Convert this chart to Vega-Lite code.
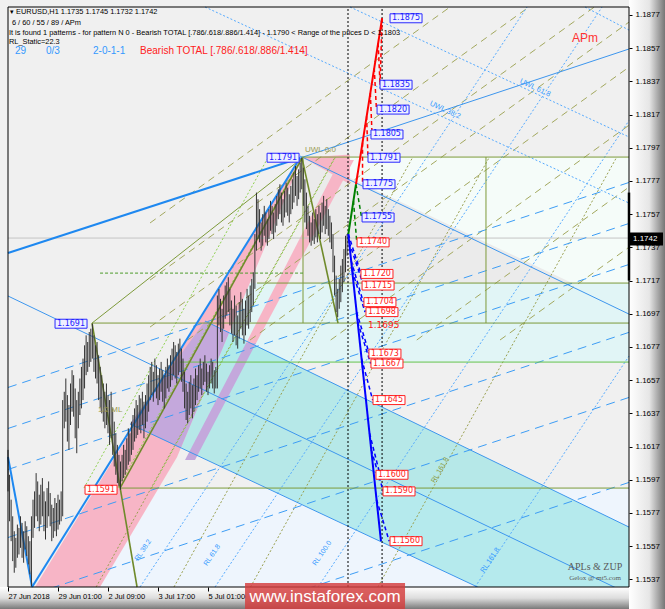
{
"$schema":"https://vega.github.io/schema/vega-lite/v6.json",
"width":621,"height":580,
"autosize":{"type":"none"},
"padding":{"left":8,"top":7,"right":36,"bottom":22},
"background":"#f0f0f0",
"view":{"fill":"#f0f0f0","stroke":null},
"config":{"font":"Liberation Sans"},
"encoding":{
 "x":{"field":"x","type":"quantitative","scale":{"domain":[0,397.44],"nice":false,"zero":false},
  "axis":{"orient":"bottom","values":[0,32,64,96,128],"labelExpr":"datum.value==0?'27 Jun 2018':datum.value==32?'29 Jun 01:00':datum.value==64?'2 Jul 09:00':datum.value==96?'3 Jul 17:00':'5 Jul 01:00'","title":null,"grid":false,"domain":false,"tickColor":"#000","tickSize":4,"labelAlign":"left","labelFontSize":7.5,"labelPadding":1,"labelColor":"#000","labelFlush":false,"labelOverlap":false,"zindex":2}},
 "y":{"field":"y","type":"quantitative","scale":{"domain":[1.15324,1.18818],"nice":false,"zero":false},
  "axis":{"orient":"right","values":[1.1537,1.1557,1.1577,1.1597,1.1617,1.1637,1.1657,1.1677,1.1697,1.1717,1.1737,1.1757,1.1777,1.1797,1.1817,1.1837,1.1857,1.1877],"format":".4f","title":null,"grid":false,"domain":false,"tickColor":"#000","tickSize":3,"labelColor":"#000","labelFontSize":8,"labelPadding":3,"zindex":2}}
},
"layer":[
 {"data":{"values":[{"x":397.44,"x2":421,"y":1.1887,"y2":1.1519}]},
  "mark":{"type":"rect","clip":false,"fill":{"gradient":"linear","x1":0,"x2":1,"y1":0,"y2":0,"stops":[{"offset":0,"color":"#ffffff"},{"offset":0.55,"color":"#e6e6e6"},{"offset":1,"color":"#707070"}]}},
  "encoding":{"x2":{"field":"x2"},"y2":{"field":"y2"}}},
 {"data":{"values":[{"x":-5.2,"x2":397.44,"y":1.15324,"y2":1.1519}]},
  "mark":{"type":"rect","clip":false,"fill":{"gradient":"linear","x1":0,"x2":0,"y1":0,"y2":1,"stops":[{"offset":0,"color":"#ffffff"},{"offset":0.5,"color":"#dddddd"},{"offset":1,"color":"#777777"}]}},
  "encoding":{"x2":{"field":"x2"},"y2":{"field":"y2"}}},
 {"data":{"values":[{"x":188.2,"x2":397.44,"y":1.17914,"y2":1.17155}]},
  "mark":{"type":"rect","fill":"#f5fcf9"},"encoding":{"x2":{"field":"x2"},"y2":{"field":"y2"}}},
 {"data":{"values":[{"x":188.2,"y":1.17926,"y2":1.17155},{"x":361,"y":1.17155,"y2":1.17155}]},
  "mark":{"type":"area","fill":"#ebebeb","clip":true},"encoding":{"y2":{"field":"y2"}}},
 {"data":{"values":[{"y":1.17155,"x":144,"x2":397.44},{"y":1.16673,"x":115.8,"x2":397.44}]},
  "mark":{"type":"area","orient":"horizontal","fill":"#e1f5f6","clip":true},"encoding":{"x2":{"field":"x2"}}},
 {"data":{"values":[{"y":1.1592,"x":96.6,"x2":397.44},{"y":1.15324,"x":58.9,"x2":397.44}]},
  "mark":{"type":"area","orient":"horizontal","fill":"#eef5fd","clip":true},"encoding":{"x2":{"field":"x2"}}},
 {"data":{"values":[{"x":78.1,"y":1.16306,"y2":1.16306},{"x":126.1,"y":1.16926,"y2":1.16095},{"x":397.44,"y":1.15685,"y2":1.14896}]},
  "mark":{"type":"area","fill":"#8fe2e2","opacity":0.6,"clip":true},"encoding":{"y2":{"field":"y2"}}},
 {"data":{"values":[{"y":1.15324,"x":17.3,"x2":58.9},{"y":1.16107,"x":68.5,"x2":108.2},{"y":1.17908,"x":186.9,"x2":188.2}]},
  "mark":{"type":"area","orient":"horizontal","fill":"#f7b5c6","clip":true},"encoding":{"x2":{"field":"x2"}}},
 {"data":{"values":[{"x":78.1,"y":1.16306,"y2":1.16306},{"x":110.5,"y":1.16725,"y2":1.1616},{"x":126.1,"y":1.16926,"y2":1.16509},{"x":141.4,"y":1.16854,"y2":1.16854}]},
  "mark":{"type":"area","fill":"#c4a8dc","clip":true},"encoding":{"y2":{"field":"y2"}}},
 {"data":{"values":[{"y":1.16089,"x":113.3,"x2":119.7},{"y":1.16794,"x":152.4,"x2":158.8}]},
  "mark":{"type":"area","orient":"horizontal","fill":"#c4a8dc","clip":true},"encoding":{"x2":{"field":"x2"}}},
 {"data":{"values":[{"y":1.16794,"x":152.4,"x2":158.8},{"y":1.17896,"x":212.5,"x2":221.4}]},
  "mark":{"type":"area","orient":"horizontal","fill":"#f7b5c6","clip":true},"encoding":{"x2":{"field":"x2"}}},
 {"data":{"values":[{"x":188.8,"y":1.1791,"y2":1.1791},{"x":218.9,"y":1.1793,"y2":1.1775}]},
  "mark":{"type":"area","fill":"#f7b5c6","clip":true},"encoding":{"y2":{"field":"y2"}}},
 {"data":{"values":[{"x":0,"x2":397.44,"y":1.17426,"y2":1.17426}]},
  "mark":{"type":"rule","color":"#c4c4c4","strokeWidth":1},"encoding":{"x2":{"field":"x2"},"y2":{"field":"y2"}}},
 {"data":{"values":[
  {"x":90.9,"y":1.17517,"x2":282.9,"y2":1.18818},
  {"x":90.9,"y":1.17173,"x2":333.4,"y2":1.18818},
  {"x":90.9,"y":1.1689,"x2":375.3,"y2":1.18818},
  {"x":114.9,"y":1.16812,"x2":397.44,"y2":1.18727},
  {"x":154.9,"y":1.16812,"x2":397.44,"y2":1.18456},
  {"x":206.5,"y":1.16812,"x2":397.44,"y2":1.18106},
  {"x":261.6,"y":1.16812,"x2":397.44,"y2":1.17733},
  {"x":314.9,"y":1.16812,"x2":397.44,"y2":1.17371}]},
  "mark":{"type":"rule","color":"#a3a85e","strokeWidth":1,"strokeDash":[7,5]},"encoding":{"x2":{"field":"x2"},"y2":{"field":"y2"}}},
 {"data":{"values":[
  {"x":56.4,"y":1.15324,"x2":209.3,"y2":1.17914},
  {"x":106.2,"y":1.15324,"x2":259.1,"y2":1.17914},
  {"x":155.2,"y":1.15324,"x2":308.1,"y2":1.17914},
  {"x":236.7,"y":1.15324,"x2":389.6,"y2":1.17914}]},
  "mark":{"type":"rule","color":"#9aa050","strokeWidth":1,"strokeDash":[2,2]},"encoding":{"x2":{"field":"x2"},"y2":{"field":"y2"}}},
 {"data":{"values":[
  {"x":48.6,"y":1.1592,"x2":166.6,"y2":1.17914},
  {"x":70.3,"y":1.1592,"x2":188.2,"y2":1.17914},
  {"x":92,"y":1.1592,"x2":209.6,"y2":1.17914}]},
  "mark":{"type":"rule","color":"#8fd14f","strokeWidth":1,"strokeDash":[2,2]},"encoding":{"x2":{"field":"x2"},"y2":{"field":"y2"}}},
 {"data":{"values":[
  {"x":0,"y":1.16526,"x2":397.44,"y2":1.17761},
  {"x":0,"y":1.16279,"x2":397.44,"y2":1.17514},
  {"x":0,"y":1.16032,"x2":397.44,"y2":1.17267},
  {"x":0,"y":1.15622,"x2":397.44,"y2":1.16858},
  {"x":0,"y":1.15231,"x2":397.44,"y2":1.16466},
  {"x":0,"y":1.14719,"x2":397.44,"y2":1.15954}]},
  "mark":{"type":"rule","color":"#3d9df5","strokeWidth":1,"strokeDash":[9,6],"clip":true},"encoding":{"x2":{"field":"x2"},"y2":{"field":"y2"}}},
 {"data":{"values":[
  {"x":84.5,"y":1.15324,"x2":332.2,"y2":1.18818},
  {"x":132.5,"y":1.15324,"x2":380.2,"y2":1.18818},
  {"x":198.4,"y":1.15324,"x2":397.44,"y2":1.18134},
  {"x":298.9,"y":1.15324,"x2":397.44,"y2":1.16715},
  {"x":126.1,"y":1.18818,"x2":397.44,"y2":1.17637},
  {"x":218.9,"y":1.18818,"x2":397.44,"y2":1.18035},
  {"x":369.3,"y":1.18818,"x2":397.44,"y2":1.18679}]},
  "mark":{"type":"rule","color":"#55aaff","strokeWidth":1,"strokeDash":[2,2]},"encoding":{"x2":{"field":"x2"},"y2":{"field":"y2"}}},
 {"data":{"values":[
  {"x":186.9,"y":1.17908,"x2":397.44,"y2":1.18565},
  {"x":186.9,"y":1.1792,"x2":397.44,"y2":1.16968},
  {"x":0,"y":1.17077,"x2":397.44,"y2":1.15281},
  {"x":126.1,"y":1.16926,"x2":397.44,"y2":1.15685},
  {"x":78.1,"y":1.16306,"x2":397.44,"y2":1.14896}]},
  "mark":{"type":"rule","color":"#3d96ee","strokeWidth":1,"clip":true},"encoding":{"x2":{"field":"x2"},"y2":{"field":"y2"}}},
 {"data":{"values":[
  {"x":188.2,"y":1.17914,"x2":397.44,"y2":1.17914},
  {"x":159.4,"y":1.17155,"x2":397.44,"y2":1.17155},
  {"x":53.8,"y":1.16914,"x2":397.44,"y2":1.16914},
  {"x":71.7,"y":1.1592,"x2":397.44,"y2":1.1592},
  {"x":188.8,"y":1.17914,"x2":188.8,"y2":1.16914},
  {"x":305.9,"y":1.17914,"x2":305.9,"y2":1.16914},
  {"x":53.8,"y":1.16914,"x2":188.2,"y2":1.17908}]},
  "mark":{"type":"rule","color":"#7d9a3a","strokeWidth":1},"encoding":{"x2":{"field":"x2"},"y2":{"field":"y2"}}},
 {"data":{"values":[{"x":110,"y":1.16679,"x2":397.44,"y2":1.16679}]},
  "mark":{"type":"rule","color":"#6cc04a","strokeWidth":1},"encoding":{"x2":{"field":"x2"},"y2":{"field":"y2"}}},
 {"data":{"values":[{"x":58.9,"y":1.17215,"x2":188.8,"y2":1.17215}]},
  "mark":{"type":"rule","color":"#4c9a2a","strokeWidth":1,"strokeDash":[3,2]},"encoding":{"x2":{"field":"x2"},"y2":{"field":"y2"}}},
 {"data":{"values":[
  {"x":0,"y":1.17336,"x2":186.9,"y2":1.17908},
  {"x":15.4,"y":1.15324,"x2":186.9,"y2":1.17908},
  {"x":0,"y":1.16107,"x2":15.4,"y2":1.15324}]},
  "mark":{"type":"rule","color":"#1e88f0","strokeWidth":2},"encoding":{"x2":{"field":"x2"},"y2":{"field":"y2"}}},
 {"data":{"values":[
  {"x":53.8,"y":1.16914,"x2":82.6,"y2":1.15324},
  {"x":71.7,"y":1.1592,"x2":188.2,"y2":1.17908},
  {"x":188.2,"y":1.17908,"x2":211.2,"y2":1.16914}]},
  "mark":{"type":"rule","color":"#6f8a2a","strokeWidth":1.6},"encoding":{"x2":{"field":"x2"},"y2":{"field":"y2"}}},
 {"data":{"values":[
{"x":0,"y":1.1615,"y2":1.159},{"x":1,"y":1.16,"y2":1.1572},{"x":2,"y":1.1585,"y2":1.156},{"x":3,"y":1.1575,"y2":1.1548},{"x":4,"y":1.1566,"y2":1.1541},{"x":5,"y":1.1562,"y2":1.1544},{"x":6,"y":1.157,"y2":1.155},{"x":7,"y":1.1568,"y2":1.1552},{"x":8,"y":1.1575,"y2":1.1556},{"x":9,"y":1.1571,"y2":1.155},
{"x":10,"y":1.1566,"y2":1.1547},{"x":11,"y":1.1572,"y2":1.1555},{"x":12,"y":1.1569,"y2":1.1551},{"x":13,"y":1.1563,"y2":1.1546},{"x":14,"y":1.156,"y2":1.154},{"x":15,"y":1.1575,"y2":1.1533},{"x":16,"y":1.1585,"y2":1.1562},{"x":17,"y":1.159,"y2":1.1568},{"x":18,"y":1.1601,"y2":1.1575},{"x":19,"y":1.1596,"y2":1.1572},
{"x":20,"y":1.1588,"y2":1.1566},{"x":21,"y":1.1594,"y2":1.157},{"x":22,"y":1.1598,"y2":1.1575},{"x":23,"y":1.159,"y2":1.1566},{"x":24,"y":1.1584,"y2":1.1561},{"x":25,"y":1.1592,"y2":1.1568},{"x":26,"y":1.1596,"y2":1.1575},{"x":27,"y":1.1589,"y2":1.1569},{"x":28,"y":1.1582,"y2":1.156},{"x":29,"y":1.158,"y2":1.1562},
{"x":30,"y":1.1586,"y2":1.1566},{"x":31,"y":1.1583,"y2":1.1563},{"x":32,"y":1.1588,"y2":1.1567},{"x":33,"y":1.1585,"y2":1.157},{"x":34,"y":1.159,"y2":1.1572},{"x":35,"y":1.1645,"y2":1.1575},{"x":36,"y":1.165,"y2":1.1628},{"x":37,"y":1.1658,"y2":1.1632},{"x":38,"y":1.1648,"y2":1.162},{"x":39,"y":1.1642,"y2":1.1615},
{"x":40,"y":1.1655,"y2":1.163},{"x":41,"y":1.1663,"y2":1.1638},{"x":42,"y":1.166,"y2":1.1635},{"x":43,"y":1.1652,"y2":1.1622},{"x":44,"y":1.1645,"y2":1.1613},{"x":45,"y":1.165,"y2":1.1628},{"x":46,"y":1.1658,"y2":1.1636},{"x":47,"y":1.1665,"y2":1.164},{"x":48,"y":1.167,"y2":1.1645},{"x":49,"y":1.1678,"y2":1.1652},
{"x":50,"y":1.1684,"y2":1.166},{"x":51,"y":1.168,"y2":1.1662},{"x":52,"y":1.1686,"y2":1.1665},{"x":53,"y":1.1688,"y2":1.1668},{"x":54,"y":1.1691,"y2":1.167},{"x":55,"y":1.1684,"y2":1.1662},{"x":56,"y":1.1678,"y2":1.1658},{"x":57,"y":1.168,"y2":1.1655},{"x":58,"y":1.1672,"y2":1.1645},{"x":59,"y":1.1665,"y2":1.164},
{"x":60,"y":1.166,"y2":1.1637},{"x":61,"y":1.1655,"y2":1.1632},{"x":62,"y":1.165,"y2":1.1628},{"x":63,"y":1.1655,"y2":1.163},{"x":64,"y":1.1648,"y2":1.1625},{"x":65,"y":1.1645,"y2":1.1618},{"x":66,"y":1.165,"y2":1.1622},{"x":67,"y":1.164,"y2":1.1612},{"x":68,"y":1.1632,"y2":1.1605},{"x":69,"y":1.1625,"y2":1.16},
{"x":70,"y":1.1618,"y2":1.1595},{"x":71,"y":1.1612,"y2":1.1593},{"x":72,"y":1.1608,"y2":1.1591},{"x":73,"y":1.1612,"y2":1.1596},{"x":74,"y":1.1618,"y2":1.1598},{"x":75,"y":1.1615,"y2":1.16},{"x":76,"y":1.1622,"y2":1.1603},{"x":77,"y":1.1628,"y2":1.1606},{"x":78,"y":1.1625,"y2":1.1608},{"x":79,"y":1.1632,"y2":1.1612},
{"x":80,"y":1.1636,"y2":1.1615},{"x":81,"y":1.164,"y2":1.162},{"x":82,"y":1.1645,"y2":1.1622},{"x":83,"y":1.1642,"y2":1.1624},{"x":84,"y":1.1648,"y2":1.1627},{"x":85,"y":1.1646,"y2":1.1625},{"x":86,"y":1.165,"y2":1.163},{"x":87,"y":1.1644,"y2":1.1622},{"x":88,"y":1.1648,"y2":1.1628},{"x":89,"y":1.1655,"y2":1.1632},
{"x":90,"y":1.166,"y2":1.1638},{"x":91,"y":1.1665,"y2":1.1645},{"x":92,"y":1.1668,"y2":1.1648},{"x":93,"y":1.1662,"y2":1.1644},{"x":94,"y":1.167,"y2":1.165},{"x":95,"y":1.1666,"y2":1.1646},{"x":96,"y":1.166,"y2":1.1642},{"x":97,"y":1.1664,"y2":1.1645},{"x":98,"y":1.1668,"y2":1.165},{"x":99,"y":1.1663,"y2":1.1644},
{"x":100,"y":1.166,"y2":1.164},{"x":101,"y":1.1665,"y2":1.1646},{"x":102,"y":1.167,"y2":1.1652},{"x":103,"y":1.1666,"y2":1.165},{"x":104,"y":1.1672,"y2":1.1653},{"x":105,"y":1.1676,"y2":1.1657},{"x":106,"y":1.168,"y2":1.166},{"x":107,"y":1.1678,"y2":1.1658},{"x":108,"y":1.1674,"y2":1.1655},{"x":109,"y":1.1679,"y2":1.166},
{"x":110,"y":1.1682,"y2":1.1662},{"x":111,"y":1.1676,"y2":1.1656},{"x":112,"y":1.167,"y2":1.165},{"x":113,"y":1.1662,"y2":1.164},{"x":114,"y":1.1655,"y2":1.1633},{"x":115,"y":1.165,"y2":1.1631},{"x":116,"y":1.1656,"y2":1.1636},{"x":117,"y":1.166,"y2":1.164},{"x":118,"y":1.1654,"y2":1.1634},{"x":119,"y":1.1658,"y2":1.1638},
{"x":120,"y":1.1664,"y2":1.1642},{"x":121,"y":1.166,"y2":1.1645},{"x":122,"y":1.1666,"y2":1.165},{"x":123,"y":1.167,"y2":1.1652},{"x":124,"y":1.1664,"y2":1.1648},{"x":125,"y":1.1668,"y2":1.1654},{"x":126,"y":1.1672,"y2":1.1656},{"x":127,"y":1.1667,"y2":1.165},{"x":128,"y":1.1662,"y2":1.1648},{"x":129,"y":1.1666,"y2":1.1652},
{"x":130,"y":1.167,"y2":1.1655},{"x":131,"y":1.1668,"y2":1.1652},{"x":132,"y":1.1663,"y2":1.1649},{"x":133,"y":1.1665,"y2":1.1652},{"x":134,"y":1.1708,"y2":1.1652},{"x":135,"y":1.1712,"y2":1.169},{"x":136,"y":1.1706,"y2":1.1686},{"x":137,"y":1.17,"y2":1.168},{"x":138,"y":1.1708,"y2":1.1688},{"x":139,"y":1.1714,"y2":1.1694},
{"x":140,"y":1.1716,"y2":1.1696},{"x":141,"y":1.1719,"y2":1.1698},{"x":142,"y":1.1712,"y2":1.169},{"x":143,"y":1.1705,"y2":1.1685},{"x":144,"y":1.17,"y2":1.168},{"x":145,"y":1.1708,"y2":1.1684},{"x":146,"y":1.1702,"y2":1.1678},{"x":147,"y":1.1696,"y2":1.1676},{"x":148,"y":1.1704,"y2":1.1682},{"x":149,"y":1.171,"y2":1.1688},
{"x":150,"y":1.1706,"y2":1.1684},{"x":151,"y":1.17,"y2":1.1679},{"x":152,"y":1.1705,"y2":1.1684},{"x":153,"y":1.1712,"y2":1.169},{"x":154,"y":1.1708,"y2":1.1688},{"x":155,"y":1.1714,"y2":1.1692},{"x":156,"y":1.1718,"y2":1.1698},{"x":157,"y":1.1722,"y2":1.1702},{"x":158,"y":1.1745,"y2":1.1712},{"x":159,"y":1.177,"y2":1.1735},
{"x":160,"y":1.1766,"y2":1.1742},{"x":161,"y":1.176,"y2":1.174},{"x":162,"y":1.1752,"y2":1.1735},{"x":163,"y":1.1757,"y2":1.1738},{"x":164,"y":1.1762,"y2":1.1744},{"x":165,"y":1.1758,"y2":1.174},{"x":166,"y":1.1754,"y2":1.1738},{"x":167,"y":1.176,"y2":1.1742},{"x":168,"y":1.1765,"y2":1.1747},{"x":169,"y":1.1762,"y2":1.1745},
{"x":170,"y":1.1758,"y2":1.1742},{"x":171,"y":1.1763,"y2":1.1746},{"x":172,"y":1.1768,"y2":1.175},{"x":173,"y":1.1772,"y2":1.1754},{"x":174,"y":1.1775,"y2":1.1757},{"x":175,"y":1.177,"y2":1.1752},{"x":176,"y":1.1766,"y2":1.175},{"x":177,"y":1.1771,"y2":1.1755},{"x":178,"y":1.1776,"y2":1.1758},{"x":179,"y":1.1773,"y2":1.1756},
{"x":180,"y":1.1769,"y2":1.1752},{"x":181,"y":1.1774,"y2":1.1757},{"x":182,"y":1.1778,"y2":1.176},{"x":183,"y":1.1782,"y2":1.1764},{"x":184,"y":1.1786,"y2":1.1768},{"x":185,"y":1.178,"y2":1.1762},{"x":186,"y":1.1784,"y2":1.1766},{"x":187,"y":1.1788,"y2":1.177},{"x":188,"y":1.1791,"y2":1.1772},{"x":189,"y":1.1785,"y2":1.1762},
{"x":190,"y":1.1778,"y2":1.1752},{"x":191,"y":1.177,"y2":1.1748},{"x":192,"y":1.1762,"y2":1.1744},{"x":193,"y":1.1756,"y2":1.174},{"x":194,"y":1.1752,"y2":1.1738},{"x":195,"y":1.1758,"y2":1.1741},{"x":196,"y":1.1754,"y2":1.1739},{"x":197,"y":1.176,"y2":1.1743},{"x":198,"y":1.1757,"y2":1.174},{"x":199,"y":1.1762,"y2":1.1745},
{"x":200,"y":1.1758,"y2":1.1742},{"x":201,"y":1.1764,"y2":1.1746},{"x":202,"y":1.1768,"y2":1.175},{"x":203,"y":1.1762,"y2":1.1745},{"x":204,"y":1.1766,"y2":1.1748},{"x":205,"y":1.176,"y2":1.1744},{"x":206,"y":1.1756,"y2":1.174},{"x":207,"y":1.1752,"y2":1.1736},{"x":208,"y":1.1745,"y2":1.1722},{"x":209,"y":1.1732,"y2":1.1708},
{"x":210,"y":1.172,"y2":1.1698},{"x":211,"y":1.1712,"y2":1.1695},{"x":212,"y":1.1718,"y2":1.17},{"x":213,"y":1.1726,"y2":1.1704},{"x":214,"y":1.173,"y2":1.171},{"x":215,"y":1.1736,"y2":1.1716},{"x":216,"y":1.1744,"y2":1.1722},{"x":217,"y":1.1745,"y2":1.1732}]},
  "mark":{"type":"rule","color":"#333333","strokeWidth":1},"encoding":{"y2":{"field":"y2"}}},
 {"data":{"values":[{"x":217.6,"y":1.15324,"x2":217.6,"y2":1.18818},{"x":239.4,"y":1.15324,"x2":239.4,"y2":1.18818}]},
  "mark":{"type":"rule","color":"#000000","strokeWidth":1,"strokeDash":[2,2]},"encoding":{"x2":{"field":"x2"},"y2":{"field":"y2"}}},
 {"data":{"values":[{"x":239.4,"y":1.1875,"x2":238.1,"y2":1.1835},{"x":236.9,"y":1.186,"x2":238.1,"y2":1.1835},{"x":234.4,"y":1.1845,"x2":235.8,"y2":1.182},{"x":231.9,"y":1.183,"x2":233,"y2":1.1805},{"x":229.5,"y":1.1816,"x2":230.4,"y2":1.1791},{"x":226.9,"y":1.18,"x2":226.9,"y2":1.1775}]},
  "mark":{"type":"rule","color":"#ff0000","strokeWidth":1.5,"strokeDash":[4,3]},"encoding":{"x2":{"field":"x2"},"y2":{"field":"y2"}}},
 {"data":{"values":[{"x":222.7,"y":1.1775,"x2":226.3,"y2":1.1755},{"x":221.1,"y":1.1765,"x2":223.2,"y2":1.174}]},
  "mark":{"type":"rule","color":"#008000","strokeWidth":1.5,"strokeDash":[4,3]},"encoding":{"x2":{"field":"x2"},"y2":{"field":"y2"}}},
 {"data":{"values":[{"x":217.8,"y":1.1745,"x2":226.3,"y2":1.172},{"x":218.4,"y":1.174,"x2":227.2,"y2":1.1715},{"x":219.6,"y":1.1729,"x2":227.4,"y2":1.1704},{"x":220.3,"y":1.1723,"x2":228.5,"y2":1.1698},{"x":223.1,"y":1.1698,"x2":231.2,"y2":1.1673},{"x":223.8,"y":1.1692,"x2":232.1,"y2":1.1667},{"x":226.3,"y":1.167,"x2":233.4,"y2":1.1645},{"x":231.4,"y":1.1625,"x2":238.1,"y2":1.16},{"x":232.5,"y":1.1615,"x2":240.2,"y2":1.159},{"x":235.9,"y":1.1585,"x2":244,"y2":1.156}]},
  "mark":{"type":"rule","color":"#0000ff","strokeWidth":1.5,"strokeDash":[4,3]},"encoding":{"x2":{"field":"x2"},"y2":{"field":"y2"}}},
 {"data":{"values":[{"x":222.7,"y":1.1775,"x2":239.4,"y2":1.1875}]},
  "mark":{"type":"rule","color":"#ff0000","strokeWidth":2},"encoding":{"x2":{"field":"x2"},"y2":{"field":"y2"}}},
 {"data":{"values":[{"x":217.8,"y":1.1745,"x2":222.7,"y2":1.1775}]},
  "mark":{"type":"rule","color":"#008000","strokeWidth":2},"encoding":{"x2":{"field":"x2"},"y2":{"field":"y2"}}},
 {"data":{"values":[{"x":217.8,"y":1.1745,"x2":238.7,"y2":1.156}]},
  "mark":{"type":"rule","color":"#0000ff","strokeWidth":2},"encoding":{"x2":{"field":"x2"},"y2":{"field":"y2"}}},
 {"data":{"values":[{"x":244.5,"y":1.1875,"t":"1.1875"},{"x":238.1,"y":1.1835,"t":"1.1835"},{"x":236.2,"y":1.182,"t":"1.1820"},{"x":232.3,"y":1.1805,"t":"1.1805"},{"x":230.4,"y":1.1791,"t":"1.1791"},{"x":227.2,"y":1.1775,"t":"1.1775"},{"x":226.6,"y":1.1755,"t":"1.1755"},{"x":165.8,"y":1.1791,"t":"1.1791"},{"x":30.1,"y":1.1691,"t":"1.1691"}]},
  "layer":[
   {"mark":{"type":"point","shape":"M0,-0.28H2V0.28H0Z","size":1024,"filled":true,"fill":"#eef0ff","stroke":"#2a2aff","strokeWidth":1,"opacity":1}},
   {"mark":{"type":"text","align":"left","baseline":"middle","dx":2,"fontSize":8,"font":"DejaVu Sans","color":"#1a1aff"},"encoding":{"text":{"field":"t"}}}
  ]},
 {"data":{"values":[{"x":223.4,"y":1.174,"t":"1.1740"},{"x":225.9,"y":1.1721,"t":"1.1720"},{"x":226.6,"y":1.1714,"t":"1.1715"},{"x":227.8,"y":1.1704,"t":"1.1704"},{"x":229.1,"y":1.1698,"t":"1.1698"},{"x":231,"y":1.1673,"t":"1.1673"},{"x":232.3,"y":1.1667,"t":"1.1667"},{"x":233.6,"y":1.1645,"t":"1.1645"},{"x":235.5,"y":1.16,"t":"1.1600"},{"x":240,"y":1.159,"t":"1.1590"},{"x":244.5,"y":1.156,"t":"1.1560"},{"x":49.3,"y":1.1591,"t":"1.1591"}]},
  "layer":[
   {"mark":{"type":"point","shape":"M0,-0.28H2V0.28H0Z","size":1024,"filled":true,"fill":"#ffffff","stroke":"#ff2020","strokeWidth":1,"opacity":1}},
   {"mark":{"type":"text","align":"left","baseline":"middle","dx":2,"fontSize":8,"font":"DejaVu Sans","color":"#ff1a1a"},"encoding":{"text":{"field":"t"}}}
  ]},
 {"data":{"values":[{"x":230.4,"y":1.16905,"t":"1.1695"}]},
  "mark":{"type":"text","align":"left","baseline":"middle","fontSize":9,"font":"DejaVu Sans","color":"#ff2020"},"encoding":{"text":{"field":"t"}}},
 {"data":{"values":[{"x":1.3,"y":1.18788,"t":"▾ EURUSD,H1  1.1735 1.1745 1.1732 1.1742"},{"x":2.5,"y":1.18722,"t":" 6 / 60 / 55 / 89 / APm"},{"x":0.6,"y":1.18661,"t":"It is found 1 patterns  -  for pattern N 0 - Bearish TOTAL [.786/.618/.886/1.414] - 1.1790 < Range of the prices D < 1.1803"},{"x":0.6,"y":1.18607,"t":"RL_Static=22.3"}]},
  "mark":{"type":"text","align":"left","baseline":"middle","fontSize":7.4,"color":"#000000"},"encoding":{"text":{"field":"t"}}},
 {"data":{"values":[{"x":4.5,"y":1.18553,"t":"29"},{"x":24.3,"y":1.18553,"t":"0/3"},{"x":54.4,"y":1.18553,"t":"2-0-1-1"}]},
  "mark":{"type":"text","align":"left","baseline":"middle","fontSize":10,"color":"#3399ff"},"encoding":{"text":{"field":"t"}}},
 {"data":{"values":[{"x":84.5,"y":1.18553,"t":"Bearish TOTAL [.786/.618/.886/1.414]"}]},
  "mark":{"type":"text","align":"left","baseline":"middle","fontSize":10,"color":"#ff2020"},"encoding":{"text":{"field":"t"}}},
 {"data":{"values":[{"x":369.3,"y":1.18631,"t":"APm"}]},
  "mark":{"type":"text","align":"center","baseline":"middle","fontSize":12,"color":"#ff3333"},"encoding":{"text":{"field":"t"}}},
 {"data":{"values":[{"x":375.7,"y":1.15444,"t":"APLs & ZUP"}]},
  "mark":{"type":"text","align":"center","baseline":"middle","fontSize":10,"font":"Liberation Serif","color":"#5a5a5a"},"encoding":{"text":{"field":"t"}}},
 {"data":{"values":[{"x":375.7,"y":1.15378,"t":"Gelox @ mt5.com"}]},
  "mark":{"type":"text","align":"center","baseline":"middle","fontSize":7,"font":"Liberation Serif","color":"#5a5a5a"},"encoding":{"text":{"field":"t"}}},
 {"data":{"values":[{"x":190.1,"y":1.17956,"t":"UWL 0.0"},{"x":57.6,"y":1.1639,"t":"1/2 ML"}]},
  "mark":{"type":"text","align":"left","baseline":"middle","fontSize":8,"color":"#9a9a50"},"encoding":{"text":{"field":"t"}}},
 {"data":{"values":[{"x":279.7,"y":1.18197,"t":"UWL 38.2"},{"x":337.3,"y":1.1833,"t":"UWL 61.8"}]},
  "mark":{"type":"text","align":"center","baseline":"middle","fontSize":7.5,"angle":25,"color":"#3399ff"},"encoding":{"text":{"field":"t"}}},
 {"data":{"values":[{"x":308.5,"y":1.15486,"t":"RL 161.8"},{"x":201,"y":1.15528,"t":"RL 100.0"},{"x":130.6,"y":1.15516,"t":"RL 61.8"},{"x":86.4,"y":1.15546,"t":"RL 38.2"}]},
  "mark":{"type":"text","align":"center","baseline":"middle","fontSize":7,"angle":-56,"color":"#3399ff"},"encoding":{"text":{"field":"t"}}},
 {"data":{"values":[{"x":276.5,"y":1.16028,"t":"RL 161.8"}]},
  "mark":{"type":"text","align":"center","baseline":"middle","fontSize":7,"angle":-60,"color":"#8a9a3a"},"encoding":{"text":{"field":"t"}}},
 {"data":{"values":[{"x":0,"y":1.18818,"x2":397.44,"y2":1.18818},{"x":0,"y":1.15324,"x2":397.44,"y2":1.15324},{"x":0,"y":1.15324,"x2":0,"y2":1.18818},{"x":397.44,"y":1.15324,"x2":397.44,"y2":1.18818}]},
  "mark":{"type":"rule","color":"#000000","strokeWidth":1,"clip":false},"encoding":{"x2":{"field":"x2"},"y2":{"field":"y2"}}},
 {"data":{"values":[{"x":397.44,"y":1.177,"x2":397.44,"y2":1.1717}]},
  "mark":{"type":"rule","color":"#000000","strokeWidth":2.5,"clip":false},"encoding":{"x2":{"field":"x2"},"y2":{"field":"y2"}}},
 {"data":{"values":[{"x":397.44,"y":1.1742,"t":"1.1742"}]},
  "layer":[
   {"mark":{"type":"point","shape":"M0.05,-0.37H2.2V0.37H0.05Z","size":900,"filled":true,"fill":"#000000","stroke":"#000000","opacity":1,"clip":false}},
   {"mark":{"type":"text","align":"left","baseline":"middle","dx":4,"fontSize":8,"color":"#ffffff","clip":false},"encoding":{"text":{"field":"t"}}}
  ]},
 {"data":{"values":[{"x":151.7,"x2":254.1,"y":1.15348,"y2":1.15191}]},
  "mark":{"type":"rect","clip":false,"fill":"#d43c3c","opacity":0.82},"encoding":{"x2":{"field":"x2"},"y2":{"field":"y2"}}},
 {"data":{"values":[{"x":202.9,"y":1.15266,"t":"www.instaforex.com"}]},
  "mark":{"type":"text","clip":false,"align":"center","baseline":"middle","fontSize":17,"color":"#ffffff"},"encoding":{"text":{"field":"t"}}}
]
}
